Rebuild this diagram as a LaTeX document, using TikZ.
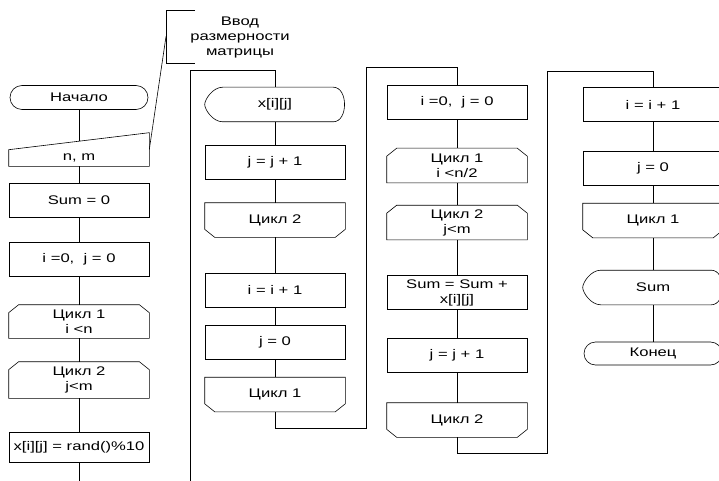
\documentclass[tikz,border=0pt]{standalone}
\usepackage{fontspec}
\setmainfont{Liberation Sans}[FakeStretch=1.33]
\usepackage{tikz}
\usetikzlibrary{shapes.misc}

\tikzset{
	blk/.style={draw, line width=0.6pt, minimum width=140pt, minimum height=34pt, inner sep=1pt, align=center},
	proc/.style={blk, rectangle},
	term/.style={blk, rounded rectangle, minimum height=24pt},
	lbeg/.style={blk, draw=none},
	lend/.style={blk, draw=none},
	disp/.style={blk, draw=none},
	link/.style={draw, line width=0.6pt}
}

\begin{document}
\begin{tikzpicture}[x=1pt, y=-1pt, every node/.style={font=\fontsize{12.5}{15}\selectfont}]
		\useasboundingbox (0,0) rectangle (719,481);
		\clip (0,0) rectangle (719,481);
		% column 1
		\node[term] (start) at (79,97.5) {Начало};
		\node[disp, minimum height=16pt] (nm) at (79,158) {n, m};
		\draw[link] (nm.south west) -- (nm.north west) -- ([yshift=17pt]nm.north east) -- (nm.south east) -- cycle;
		\coordinate (nmtop) at (79,141.5);
		\node[proc] (sum0) at (79,200.5) {Sum = 0};
		\node[proc] (init1) at (79,259.5) {i =0,~ j = 0};
		\node[lbeg, minimum height=33pt] (loop1a) at (79,321.5) {Цикл 1\\i <n};
		\node[lbeg, minimum height=36pt] (loop2a) at (79,380) {Цикл 2\\j<m};
		\node[proc, minimum height=30pt] (rnd) at (79,447) {x[i][j] = rand()\%10};
		\coordinate (bot1) at (79,481);
		% comment
		\node[align=center, inner sep=0pt] (cmttxt) at (240,37) {Ввод\\размерности\\матрицы};
		\coordinate (cmt) at (166,36.5);
		\draw[link] (195,10) -- (166,10) -- (166,63) -- (195,63);
		\draw[link] ([yshift=8.5pt]nm.east) -- (cmt);
		% column 2
		\node[disp] (out1) at (275,104.5) {x[i][j]};
		\node[proc] (inc1) at (275,162) {j = j + 1};
		\node[lend] (loop2b) at (275,220) {Цикл 2};
		\node[proc] (inci1) at (275,290) {i = i + 1};
		\node[proc] (j0a) at (275,342) {j = 0};
		\node[lend] (loop1b) at (275,394.5) {Цикл 1};
		\coordinate (top2) at (190,481);
		% column 3
		\node[proc] (init2) at (457,102) {i =0,~ j = 0};
		\node[lbeg] (loop1c) at (457,165.5) {Цикл 1\\i <n/2};
		\node[lbeg] (loop2c) at (457,222.5) {Цикл 2\\j<m};
		\node[proc] (sumadd) at (457,292.5) {Sum = Sum +\\x[i][j]};
		\node[proc] (inc2) at (457,355.5) {j = j + 1};
		\node[lend] (loop2d) at (457,420) {Цикл 2};
		% column 4
		\node[proc] (inci2) at (653,104.5) {i = i + 1};
		\node[proc] (j0b) at (653,168) {j = 0};
		\node[lend] (loop1d) at (653,220.5) {Цикл 1};
		\node[disp] (outsum) at (653,287.5) {Sum};
		\node[term, minimum height=23pt] (end) at (653,353.5) {Конец};
		% loop outlines
		\foreach \b in {loop1a,loop2a,loop1c,loop2c}
			\draw[link] (\b.south west) -- ([yshift=-8pt]\b.north west) -- ([xshift=10pt]\b.north west)
				-- ([xshift=-10pt]\b.north east) -- ([yshift=-8pt]\b.north east) -- (\b.south east) -- cycle;
		\foreach \b in {loop2b,loop1b,loop2d,loop1d}
			\draw[link] (\b.north west) -- ([yshift=8pt]\b.south west) -- ([xshift=10pt]\b.south west)
				-- ([xshift=-10pt]\b.south east) -- ([yshift=8pt]\b.south east) -- (\b.north east) -- cycle;
		% display outlines
		\foreach \d in {out1,outsum}
			\draw[link] ([xshift=18pt]\d.north west) -- ([xshift=-12pt]\d.north east)
				.. controls ([xshift=3pt]\d.north east) and ([xshift=3pt]\d.south east) .. ([xshift=-12pt]\d.south east)
				-- ([xshift=18pt]\d.south west)
				.. controls ([xshift=8pt]\d.south west) and ([yshift=-5pt]\d.west) .. (\d.west)
				.. controls ([yshift=5pt]\d.west) and ([xshift=8pt]\d.north west) .. ([xshift=18pt]\d.north west);
		% connectors
		\draw[link] (start) -- (nmtop);
		\draw[link] (nm) -- (sum0);
		\draw[link] (sum0) -- (init1);
		\draw[link] (init1) -- (loop1a);
		\draw[link] (loop1a) -- (loop2a);
		\draw[link] (loop2a) -- (rnd);
		\draw[link] (rnd) -- (bot1);
		\draw[link] (top2) |- ([yshift=17pt]out1.north) -- (out1.north);
		\draw[link] (out1) -- (inc1);
		\draw[link] (inc1) -- (loop2b);
		\draw[link] (loop2b) -- (inci1);
		\draw[link] (inci1) -- (j0a);
		\draw[link] (j0a) -- (loop1b);
		\draw[link] (loop1b.south) |- (366,428) -- (366,67) -| (init2.north);
		\draw[link] (init2) -- (loop1c);
		\draw[link] (loop1c) -- (loop2c);
		\draw[link] (loop2c) -- (sumadd);
		\draw[link] (sumadd) -- (inc2);
		\draw[link] (inc2) -- (loop2d);
		\draw[link] (loop2d.south) |- (547,453) -- (547,71) -| (inci2.north);
		\draw[link] (inci2) -- (j0b);
		\draw[link] (j0b) -- (loop1d);
		\draw[link] (loop1d) -- (outsum);
		\draw[link] (outsum) -- (end);
\end{tikzpicture}
\end{document}
